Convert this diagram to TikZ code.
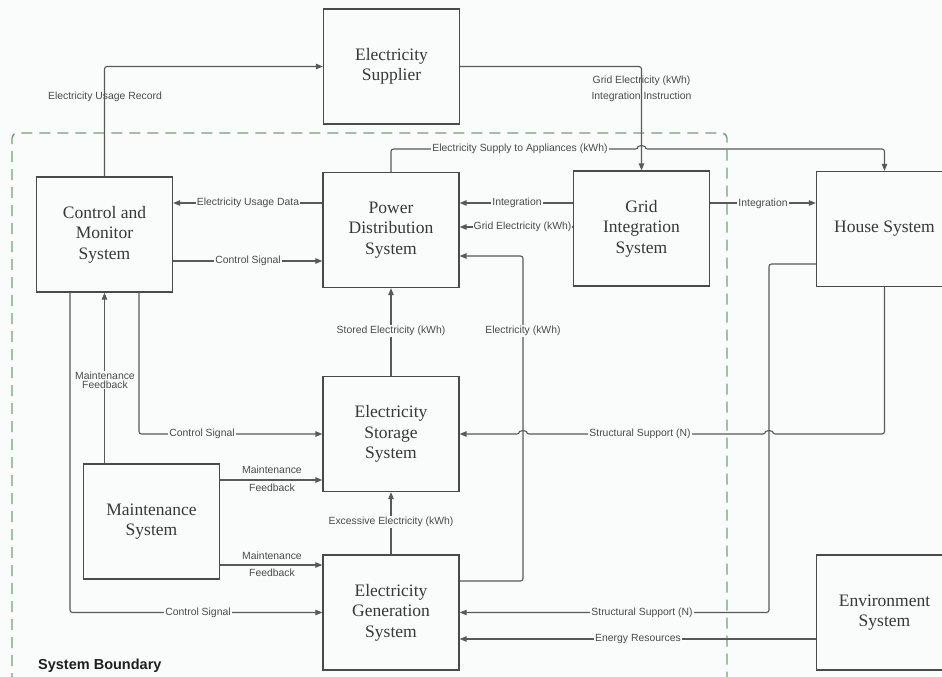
\documentclass[tikz,border=0pt]{standalone}
\usepackage{fontspec}
\setmainfont{Liberation Serif}
\newfontfamily\lsans{Liberation Sans}
\usetikzlibrary{arrows.meta}
\definecolor{bg}{HTML}{FAFBFB}
\definecolor{boxline}{HTML}{4A4A4A}
\definecolor{connline}{HTML}{595959}
\definecolor{boxtext}{HTML}{383838}
\definecolor{labtext}{HTML}{4A4A4A}
\definecolor{bound}{HTML}{7A9C7A}
\begin{document}
\begin{tikzpicture}[x=1pt,y=-1pt,
  sysbox/.style={draw=boxline,line width=1.3pt,minimum width=136pt,minimum height=115pt,inner sep=0pt,align=center,text=boxtext,font=\fontsize{17.5}{20.5}\selectfont},
  conn/.style={draw=connline,line width=1.1pt,rounded corners=2.5pt,-{Triangle[length=7pt,width=5.5pt]}},
  lab/.style={font=\lsans\fontsize{10.4}{12}\selectfont,text=labtext,fill=bg,inner sep=1pt,align=center},
  labnf/.style={lab,fill=none},
  boundary/.style={draw=bound,line width=1.4pt,dash pattern=on 11pt off 7pt,rounded corners=5pt}
]
\useasboundingbox (0,0) rectangle (942,677);
\fill[bg] (0,0) rectangle (942,677);

% system boundary
\draw[boundary] (12,720) -- (12,133) -- (727,133) -- (727,720);

% boxes
\node[sysbox] (sup)   at (391.5,66.5) {Electricity\\Supplier};
\node[sysbox] (ctrl)  at (104.5,234.5) {Control and\\Monitor\\System};
\node[sysbox] (pds)   at (391,230) {Power\\Distribution\\System};
\node[sysbox] (gis)   at (641.5,228.5) {Grid\\Integration\\System};
\node[sysbox] (house) at (884.5,229) {House System};
\node[sysbox] (ess)   at (391,434) {Electricity\\Storage\\System};
\node[sysbox] (maint) at (151.5,521.5) {Maintenance\\System};
\node[sysbox] (egs)   at (391,612.5) {Electricity\\Generation\\System};
\node[sysbox] (env)   at (884.5,612.5) {Environment\\System};

% levels
\coordinate (yUD) at (0,203);
\coordinate (yGE) at (0,227);
\coordinate (yEL) at (0,256);
\coordinate (yCS) at (0,261);
\coordinate (yHS) at (0,264);
\coordinate (yMF1) at (0,480);
\coordinate (yMF2) at (0,565);
\coordinate (yEG) at (0,581);
\coordinate (yER) at (0,639);
\coordinate (xCS1) at (139,0);
\coordinate (xCS2) at (70,0);
\coordinate (xEL) at (523,0);
\coordinate (xSS) at (769,0);

% connectors
\draw[conn] (ctrl.north) |- (sup.west);
\draw[conn] (sup.east) -| (gis.north);
\draw[conn] (pds.north) |- (638,149) arc[start angle=180,end angle=0,radius=3.5pt] -| (house.north);
\draw[conn] (pds.west |- yUD) -- (ctrl.east |- yUD);
\draw[conn] (ctrl.east |- yCS) -- (pds.west |- yCS);
\draw[conn] (gis.west |- yUD) -- (pds.east |- yUD);
\draw[conn] (gis.west |- yGE) -- (pds.east |- yGE);
\draw[conn] (gis.east |- yUD) -- (house.west |- yUD);
\draw[conn] (egs.east |- yEG) -| (xEL |- yEL) -- (pds.east |- yEL);
\draw[conn] (house.south) |- (772.5,434) arc[start angle=0,end angle=180,radius=3.5pt] -- (526.5,434) arc[start angle=0,end angle=180,radius=3.5pt] -- (ess.east);
\draw[conn] (house.west |- yHS) -| (xSS |- egs.east) -- (egs.east);
\draw[conn] (env.west |- yER) -- (egs.east |- yER);
\draw[conn] (ess.north) -- (pds.south);
\draw[conn] (egs.north) -- (ess.south);
\draw[conn] (ctrl.south -| xCS1) |- (ess.west);
\draw[conn] (ctrl.south -| xCS2) |- (egs.west);
\draw[conn] (maint.north -| ctrl.south) -- (ctrl.south);
\draw[conn] (maint.east |- yMF1) -- (ess.west |- yMF1);
\draw[conn] (maint.east |- yMF2) -- (egs.west |- yMF2);

% labels
\node[labnf] (l1) at (105,97) {Electricity Usage Record};
\node[labnf,font=\lsans\fontsize{10.4}{16}\selectfont] (l2) at (641.5,89) {Grid Electricity (kWh)\\Integration Instruction};
\node[lab] (l3) at (520,149) {Electricity Supply to Appliances (kWh)};
\node[lab] (l4) at (248,203) {Electricity Usage Data};
\node[lab] (l5) at (248,261) {Control Signal};
\node[lab] (l6) at (517,203) {Integration};
\node[lab] (l7) at (522.5,227) {Grid Electricity (kWh)};
\node[lab] (l8) at (763,204) {Integration};
\node[lab] (l9) at (523,331) {Electricity (kWh)};
\node[lab] (l10) at (391,331) {Stored Electricity (kWh)};
\node[lab] (l11) at (640,434) {Structural Support (N)};
\node[lab] (l12) at (642,612.5) {Structural Support (N)};
\node[lab] (l13) at (638,639) {Energy Resources};
\node[lab] (l14) at (391,522) {Excessive Electricity (kWh)};
\node[lab] (l15) at (202,434) {Control Signal};
\node[lab] (l16) at (198,612.5) {Control Signal};
\node[lab,font=\lsans\fontsize{10.4}{9}\selectfont] (l17) at (105,380) {Maintenance\\Feedback};
\node[labnf] (l18) at (272,470) {Maintenance};
\node[labnf] (l19) at (272,487.5) {Feedback};
\node[labnf] (l20) at (272,555.5) {Maintenance};
\node[labnf] (l21) at (272,573) {Feedback};
\node[anchor=west,inner sep=0pt,text=black!88,font=\lsans\bfseries\fontsize{14.5}{16}\selectfont] (sbl) at (38,666) {System Boundary};
\end{tikzpicture}
\end{document}
